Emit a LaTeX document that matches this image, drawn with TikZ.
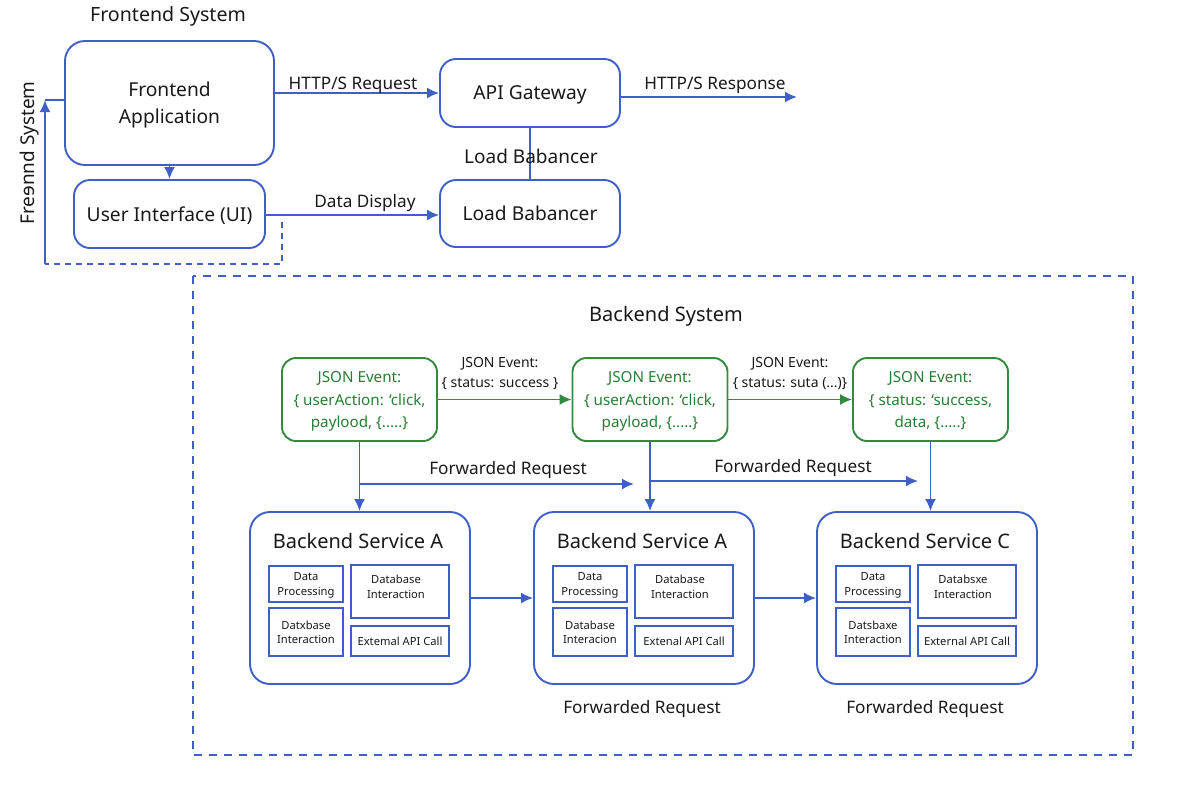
\documentclass[tikz,border=0pt]{standalone}
\usepackage{fontspec}
\setmainfont{Noto Sans}
\usetikzlibrary{arrows.meta}
\definecolor{lblue}{RGB}{62,94,200}
\definecolor{lgreen}{RGB}{50,138,62}
\definecolor{tgreen}{RGB}{38,126,50}
\definecolor{txt}{RGB}{25,25,25}
\newcommand\fs[1]{\fontsize{#1}{1.3\dimexpr#1pt\relax}\selectfont}
\newcommand\backendsvc[7]{%
  % #1 name, #2 left x, #3 title, #4 DP text, #5 DI text, #6 DbI text, #7 API text
  \node[bbox] (#1) at (#2+110,598) {};
  \node[btitle] (#1t) at (#2+108,541) {#3};
  \node[ibox, minimum width=37pt, minimum height=18pt] (#1dp) at (#2+56,584) {#4};
  \node[ibox, minimum width=49pt, minimum height=26.5pt,
        label={[ilabel, xshift=-2pt, yshift=2.5pt]center:#5}] (#1di) at (#2+150,591.5) {};
  \node[ibox, minimum width=37pt, minimum height=24pt] (#1db) at (#2+56,632) {#6};
  \node[ibox, minimum width=49pt, minimum height=15pt] (#1api) at (#2+150,641) {#7};
}
\begin{document}
\begin{tikzpicture}[x=0.5pt,y=-0.5pt,
  line width=0.9pt,
  tip/.style={-{Latex[length=6pt,width=5.5pt]}},
  fbox/.style={draw=lblue, line width=0.95pt, rounded corners=8pt, align=center,
     inner sep=0pt, text depth=0pt, text=txt, font=\fs{9.6}},
  jbox/.style={draw=lgreen, line width=0.95pt, rounded corners=7pt, align=center,
     inner sep=0pt, text depth=0pt, text=tgreen, font=\fontsize{7.6}{11.2}\selectfont,
     minimum width=77.5pt, minimum height=41.5pt},
  bbox/.style={draw=lblue, line width=0.95pt, rounded corners=10pt,
     minimum width=110pt, minimum height=86pt, inner sep=0pt},
  btitle/.style={text=txt, font=\fs{10}, inner sep=0pt, text depth=0pt},
  ibox/.style={draw=lblue, line width=0.8pt, inner sep=0pt, align=center,
     text depth=0pt, text=txt, font=\fontsize{5.6}{7.2}\selectfont},
  ilabel/.style={align=center, text=txt, font=\fontsize{5.6}{7.6}\selectfont,
     inner sep=0pt, text depth=0pt},
  elabel/.style={text=txt, font=\fs{8.6}, inner sep=0pt, align=center, text depth=0pt},
  jlabel/.style={text=txt, font=\fontsize{7}{10}\selectfont, inner sep=0pt,
     align=center, text depth=0pt},
  bline/.style={draw=lblue},
  gline/.style={draw=lgreen},
  fdash/.style={draw=lblue, dash pattern=on 3pt off 2.5pt},
  bdash/.style={draw=lblue, line width=0.8pt, dash pattern=on 4pt off 3.5pt},
]
\useasboundingbox (0,0) rectangle (1200,800);

% ---------- Frontend ----------
\node[elabel, font=\fs{9.8}] (fstitle) at (168,14) {Frontend System};
\node[elabel, font=\fs{9.5}, rotate=90] (fsside) at (27,153) {Fre\char"0258 nnd System};

\node[fbox, rounded corners=10pt, minimum width=104.5pt, minimum height=62pt,
      font=\fontsize{9.6}{13.5}\selectfont] (fa) at (169.5,103) {Frontend\\Application};
\node[fbox, minimum width=95.5pt, minimum height=34pt] (ui) at (169.5,214) {User Interface (UI)};
\node[fbox, minimum width=90pt, minimum height=34pt] (api) at (530,93) {API Gateway};
\node[fbox, minimum width=90pt, minimum height=33.5pt] (lb) at (530,213.5) {Load Babancer};

\draw[bline, tip] (fa.south) -- (ui.north);
\draw[bline, tip] (fa.east |- api.west) -- (api.west);
\node[elabel] (lreq) at (353,83) {HTTP/S Request};
\coordinate (respend) at (797,97);
\draw[bline, tip] (api.east |- respend) -- (respend);
\node[elabel] (lresp) at (715,83) {HTTP/S Response};
\draw[bline] (api.south) -- (lb.north);
\node[elabel, font=\fs{9.5}] (llb) at (531,156) {Load Babancer};
\draw[bline, tip] (ui.east |- 0,215) -- (lb.west |- 0,215);
\node[elabel] (ldd) at (365,201) {Data Display};

% feedback loop
\coordinate (fb1) at (282,222);
\coordinate (fb2) at (282,264);
\coordinate (fb3) at (45,264);
\coordinate (fb4) at (45,100);
\draw[fdash] (fb1) -- (fb2) -- (fb3);
\draw[bline, tip] (fb3) -- (fb4);
\draw[bline] (fb4) -- (fa.west |- fb4);

% ---------- Backend ----------
\draw[bdash] (193,276) rectangle (1133,755);
\node[elabel, font=\fs{10}] (bstitle) at (666,314) {Backend System};

\node[jbox] (j1) at (359.5,399.5) {JSON Event:\\\{ userAction: ‘click,\\paylood, \{.....\}};
\node[jbox] (j2) at (650,399.5) {JSON Event:\\\{ userAction: ‘click,\\payload, \{.....\}};
\node[jbox] (j3) at (930.5,399.5) {JSON Event:\\\{ status: ‘success,\\data, \{.....\}};

\draw[gline, tip] (j1.east) -- (j2.west);
\draw[gline, tip] (j2.east) -- (j3.west);
\node[jlabel] (jl1) at (500,372) {JSON Event:\\\{ status: success \}};
\node[jlabel] (jl2) at (790,372) {JSON Event:\\\{ status: suta (...)\}};

\backendsvc{b1}{250}{Backend Service A}{Data\\Processing}{Database\\Interaction}{Datxbase\\Interaction}{Extemal API Call}
\backendsvc{b2}{534}{Backend Service A}{Data\\Processing}{Database\\Interaction}{Database\\Interacion}{Extenal API Call}
\backendsvc{b3}{817}{Backend Service C}{Data\\Processing}{Databsxe\\Interaction}{Datsbaxe\\Interaction}{External API Call}

\draw[bline, tip] (j1.south) -- (b1.north -| j1.south);
\draw[bline, tip] (j2.south) -- (b2.north -| j2.south);
\draw[bline, tip] (j3.south) -- (b3.north -| j3.south);

\coordinate (fr1) at (634,484);
\coordinate (fr2) at (918,481);
\draw[bline, tip] (j1.south |- fr1) -- (fr1);
\draw[bline, tip] (j2.south |- fr2) -- (fr2);
\node[elabel] (lfr1) at (508,468) {Forwarded Request};
\node[elabel] (lfr2) at (793,466) {Forwarded Request};

\draw[bline, tip] (b1.east) -- (b2.west);
\draw[bline, tip] (b2.east) -- (b3.west);

\node[elabel] (lfr3) at (642,707) {Forwarded Request};
\node[elabel] (lfr4) at (925,707) {Forwarded Request};
\end{tikzpicture}
\end{document}
